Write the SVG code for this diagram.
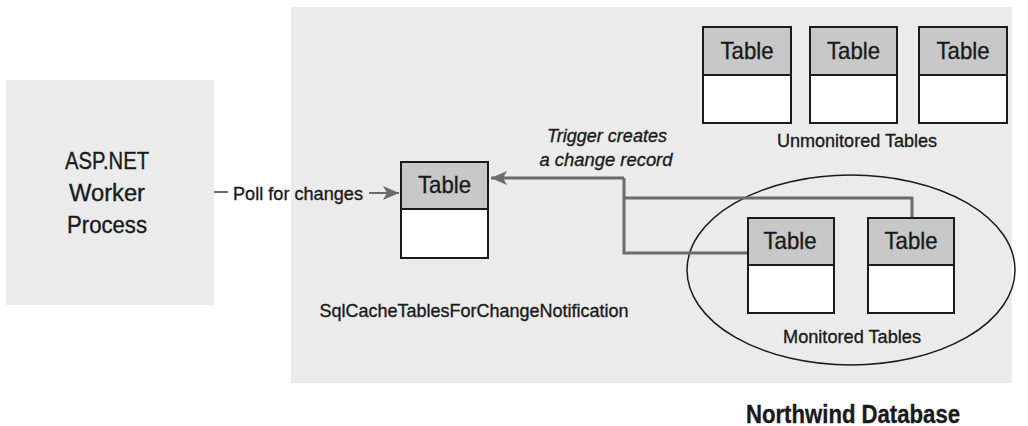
<svg xmlns="http://www.w3.org/2000/svg" width="1028" height="426" viewBox="0 0 1028 426">
<defs>
<style>
.panel{fill:#ebebeb}
.hdr{fill:#c7c8c7;stroke:#1a1a1a;stroke-width:2}
.body{fill:#ffffff;stroke:#1a1a1a;stroke-width:2}
.t{font-family:"Liberation Sans",Arial,sans-serif;fill:#1a1a1a;stroke:#1a1a1a;stroke-width:0.35;text-anchor:middle}
.tbl{font-size:24px}
.lbl{font-size:19px}
.conn{fill:none;stroke:#6b6b6b;stroke-width:3}
</style>
<marker id="ah" markerUnits="userSpaceOnUse" markerWidth="18" markerHeight="16" refX="16" refY="8" orient="auto">
<path d="M0,1 L16,8 L0,15 L4,8 Z" fill="#6b6b6b"/>
</marker>
</defs>
<rect width="1028" height="426" fill="#ffffff"/>
<g id="database">
<rect class="panel" x="291" y="7" width="721" height="376"/>
<text class="t" x="853" y="423" font-size="25" font-weight="bold" textLength="214" lengthAdjust="spacingAndGlyphs">Northwind Database</text>
</g>
<g id="worker">
<rect class="panel" x="6" y="80" width="208" height="225"/>
<text class="t" x="107" y="169" font-size="23" textLength="84" lengthAdjust="spacingAndGlyphs">ASP.NET</text>
<text class="t" x="107" y="201" font-size="23" textLength="76" lengthAdjust="spacingAndGlyphs">Worker</text>
<text class="t" x="107" y="233" font-size="23" textLength="80" lengthAdjust="spacingAndGlyphs">Process</text>
</g>
<g id="monitored-group">
<ellipse cx="851" cy="270" rx="164" ry="95" fill="none" stroke="#1a1a1a" stroke-width="1.5"/>
<text class="t lbl" x="852" y="343" textLength="138" lengthAdjust="spacingAndGlyphs">Monitored Tables</text>
</g>
<g id="connectors">
<path class="conn" d="M624,178 L624,253 L748,253"/>
<path class="conn" d="M624,198 L912,198 L912,218"/>
<path class="conn" d="M624,178 L491,178" marker-end="url(#ah)"/>
<line x1="214" y1="192" x2="228" y2="192" stroke="#6b6b6b" stroke-width="2"/>
<line x1="369" y1="193" x2="399" y2="193" stroke="#6b6b6b" stroke-width="2" marker-end="url(#ah)"/>
<text class="t lbl" x="298" y="200" font-size="18" textLength="130" lengthAdjust="spacingAndGlyphs">Poll for changes</text>
<text class="t lbl" x="607" y="142" font-style="italic" textLength="120" lengthAdjust="spacingAndGlyphs">Trigger creates</text>
<text class="t lbl" x="606" y="166" font-style="italic" textLength="133" lengthAdjust="spacingAndGlyphs">a change record</text>
</g>
<g id="sqlcache-table">
<rect class="body" x="401" y="162" width="87" height="96"/>
<rect class="hdr" x="401" y="162" width="87" height="47"/>
<text class="t tbl" x="444.5" y="193" textLength="53" lengthAdjust="spacingAndGlyphs">Table</text>
<text class="t lbl" x="474" y="317" textLength="309" lengthAdjust="spacingAndGlyphs">SqlCacheTablesForChangeNotification</text>
</g>
<g id="monitored-table-1">
<rect class="body" x="748" y="218" width="86" height="95"/>
<rect class="hdr" x="748" y="218" width="86" height="47"/>
<text class="t tbl" x="790" y="249" textLength="53" lengthAdjust="spacingAndGlyphs">Table</text>
</g>
<g id="monitored-table-2">
<rect class="body" x="868" y="218" width="86" height="95"/>
<rect class="hdr" x="868" y="218" width="86" height="47"/>
<text class="t tbl" x="911" y="249" textLength="53" lengthAdjust="spacingAndGlyphs">Table</text>
</g>
<g id="unmonitored-table-1">
<rect class="body" x="703" y="27" width="88" height="96"/>
<rect class="hdr" x="703" y="27" width="88" height="48"/>
<text class="t tbl" x="747" y="59" textLength="53" lengthAdjust="spacingAndGlyphs">Table</text>
</g>
<g id="unmonitored-table-2">
<rect class="body" x="810" y="27" width="87" height="96"/>
<rect class="hdr" x="810" y="27" width="87" height="48"/>
<text class="t tbl" x="853.5" y="59" textLength="53" lengthAdjust="spacingAndGlyphs">Table</text>
</g>
<g id="unmonitored-table-3">
<rect class="body" x="919" y="27" width="88" height="96"/>
<rect class="hdr" x="919" y="27" width="88" height="48"/>
<text class="t tbl" x="963" y="59" textLength="53" lengthAdjust="spacingAndGlyphs">Table</text>
</g>
<g id="unmonitored-label">
<text class="t lbl" x="857" y="147" textLength="160" lengthAdjust="spacingAndGlyphs">Unmonitored Tables</text>
</g>
</svg>
